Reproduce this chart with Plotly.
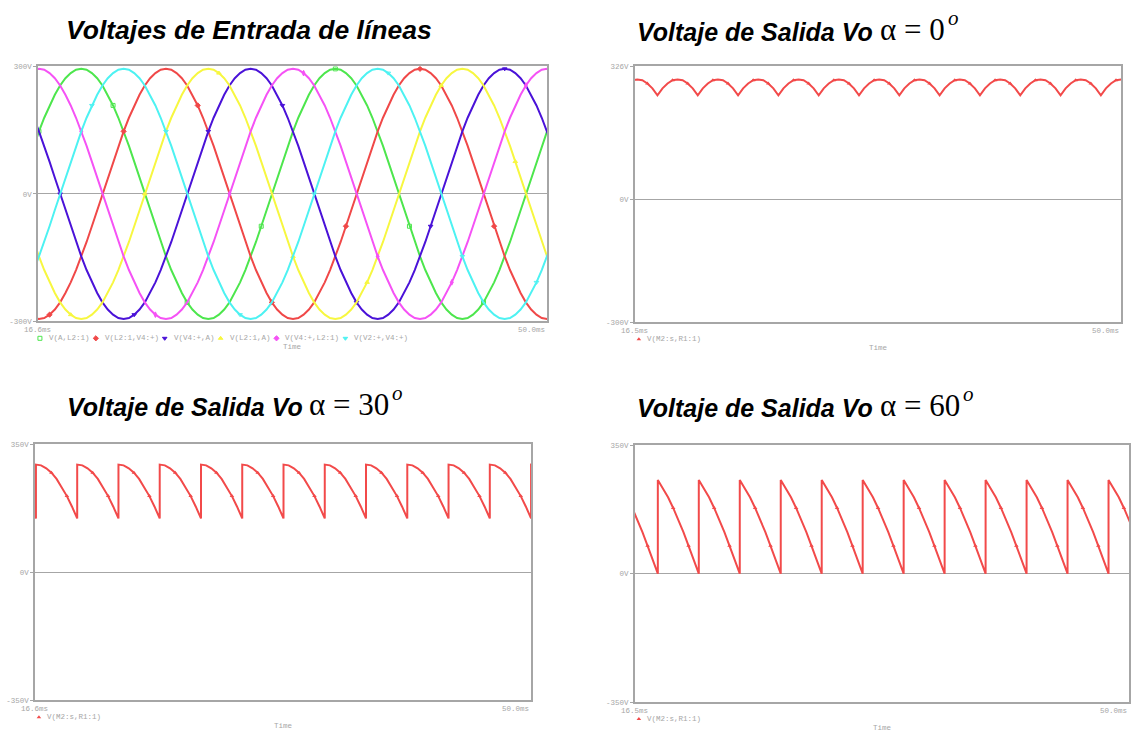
import plotly.graph_objects as go

W, H = 1131, 734

# Line-to-line supply: quarter wave sampled every 7.5 degrees (peak 294 V, 60 Hz)
QUARTER_WAVE_V = [0, 38, 76, 113, 147, 179, 208, 233, 255, 272, 284, 292, 294]
STEP_DEG = 7.5
PERIOD_MS = 16.667
T_ZERO_MS = 16.667

LINE_LABELS = ["V(A,L2:1)", "V(L2:1,V4:+)", "V(V4:+,A)", "V(L2:1,A)", "V(V4:+,L2:1)", "V(V2:+,V4:+)"]
LINE_PHASE_DEG = [30, -90, 150, -150, 90, -30]
LINE_COLORS = ["#4de64d", "#f04848", "#4a12d8", "#f7f740", "#f552f5", "#4df2f2"]
LINE_SYMBOLS = ["square-open", "diamond", "triangle-down", "triangle-up", "diamond-tall", "triangle-down-open"]

# Rectified output pulses (one 60 degree pulse each), per firing angle
OUT_LABEL = "V(M2:s,R1:1)"
OUT_COLOR = "#f24a4a"
ARC_ALPHA_0 = [255, 272, 284, 292, 294, 292, 284, 272, 255]
ARC_ALPHA_30 = [294, 292, 284, 272, 255, 233, 208, 179, 147]
ARC_ALPHA_60 = [255, 233, 208, 179, 147, 113, 76, 38, 0]
FIRST_PULSE_DEG = [-30, -60, -30]

# Panels: input, alpha=0, alpha=30, alpha=60
TITLE_TEXT = ["Voltajes de Entrada de líneas", "Voltaje de Salida Vo",
              "Voltaje de Salida Vo", "Voltaje de Salida Vo"]
TITLE_ALPHA = [None, "α = 0", "α = 30", "α = 60"]
X_RANGES = [[16.6, 50.0], [16.5, 50.0], [16.6, 50.0], [16.5, 50.0]]
X_TICK_TEXT = [["16.6ms", "50.0ms"], ["16.5ms", "50.0ms"], ["16.6ms", "50.0ms"], ["16.5ms", "50.0ms"]]
Y_RANGES = [[-300, 300], [-300, 326], [-350, 350], [-350, 350]]
Y_TICK_VALS = [[-300, 0, 300], [-300, 0, 326], [-350, 0, 350], [-350, 0, 350]]
Y_TICK_TEXT = [["-300V", "0V", "300V"], ["-300V", "0V", "326V"], ["-350V", "0V", "350V"], ["-350V", "0V", "350V"]]

# Panel boxes in pixels: left, right, top, bottom
BOXES = [(38, 548, 64, 322), (636, 1123, 64, 323), (35, 532, 446, 705), (636, 1131, 447, 707)]
# title: left x, baseline y, font size, right edge of the alpha expression
TITLE_X = [64, 636, 65, 636]
TITLE_BASE = [37, 38, 417, 418]
TITLE_SIZE = [26.5, 25, 25, 25]
ALPHA_SIZE = 31
ALPHA_END_X = [None, 949, 392, 964]

GRAY = "#a6a6a6"
MONO = "Liberation Mono"
SERIF = "Liberation Serif"


def px(x):
    return x / W


def py(y):
    return 1 - y / H


def wave_at(k):
    n = k % 48
    q, r = divmod(n, 12)
    if q == 0:
        return QUARTER_WAVE_V[r]
    if q == 1:
        return QUARTER_WAVE_V[12 - r]
    if q == 2:
        return -QUARTER_WAVE_V[r]
    return -QUARTER_WAVE_V[12 - r]


step_ms = PERIOD_MS * STEP_DEG / 360.0
fig = go.Figure()

# Input line voltages
for i, (lab, ph, col, sym) in enumerate(zip(LINE_LABELS, LINE_PHASE_DEG, LINE_COLORS, LINE_SYMBOLS)):
    off = int(round(ph / STEP_DEG))
    ks = list(range(-3, 99))
    t = [T_ZERO_MS + k * step_ms for k in ks]
    v = [wave_at(k + off) for k in ks]
    fig.add_trace(go.Scatter(x=t, y=v, mode="lines", line=dict(color=col, width=2),
                             xaxis="x", yaxis="y", showlegend=False, hoverinfo="skip"))
    mk = list(range(3 + 2 * i, len(ks), 14))
    fig.add_trace(go.Scatter(x=[t[j] for j in mk], y=[v[j] for j in mk], mode="markers",
                             marker=dict(color=col, size=4, symbol=sym, line=dict(color=col, width=1)),
                             xaxis="x", yaxis="y", showlegend=False, hoverinfo="skip"))

# Rectified outputs
arcs = [ARC_ALPHA_0, ARC_ALPHA_30, ARC_ALPHA_60]
for p, (arc, first) in enumerate(zip(arcs, FIRST_PULSE_DEG)):
    ax = str(p + 2)
    t, v, mt, mv = [], [], [], []
    for j in range(15):
        start = first + 60 * j
        for i, val in enumerate(arc):
            tt = T_ZERO_MS + (start + i * STEP_DEG) / 360.0 * PERIOD_MS
            t.append(tt)
            v.append(val)
            if i in (3, 6):
                mt.append(tt)
                mv.append(val)
    fig.add_trace(go.Scatter(x=t, y=v, mode="lines", line=dict(color=OUT_COLOR, width=2),
                             xaxis="x" + ax, yaxis="y" + ax, showlegend=False, hoverinfo="skip"))
    fig.add_trace(go.Scatter(x=mt, y=mv, mode="markers",
                             marker=dict(color=OUT_COLOR, size=4, symbol="triangle-up"),
                             xaxis="x" + ax, yaxis="y" + ax, showlegend=False, hoverinfo="skip"))

# Legend key symbols, drawn on a full-page overlay axis measured in pixels
leg_x = [40, 96, 165, 221, 277, 346]
leg_sym = ["square-open", "diamond", "triangle-down", "triangle-up", "diamond", "triangle-down"]
for col, sym, x in zip(LINE_COLORS, leg_sym, leg_x):
    fig.add_trace(go.Scatter(x=[x], y=[339], mode="markers", xaxis="x5", yaxis="y5",
                             marker=dict(color=col, size=4, symbol=sym, line=dict(color=col, width=1)),
                             showlegend=False, hoverinfo="skip"))
for (l, r, top, bot) in BOXES[1:]:
    fig.add_trace(go.Scatter(x=[l + 4], y=[bot + 17], mode="markers", xaxis="x5", yaxis="y5",
                             marker=dict(color=OUT_COLOR, size=4, symbol="triangle-up"),
                             showlegend=False, hoverinfo="skip"))

layout = dict(width=W, height=H, margin=dict(l=0, r=0, t=0, b=0),
              paper_bgcolor="white", plot_bgcolor="rgba(0,0,0,0)", showlegend=False)
layout["xaxis5"] = dict(domain=[0, 1], range=[0, W], anchor="y5", visible=False, fixedrange=True)
layout["yaxis5"] = dict(domain=[0, 1], range=[H, 0], anchor="x5", visible=False, fixedrange=True)


def note(x, y, text, size, family=MONO, color=GRAY, xanchor="left"):
    return dict(x=px(x), y=py(y), xref="paper", yref="paper", text=text, showarrow=False,
                xanchor=xanchor, yanchor="middle", font=dict(family=family, size=size, color=color))


annotations = []
for p, (l, r, top, bot) in enumerate(BOXES):
    sfx = "" if p == 0 else str(p + 1)
    layout["xaxis" + sfx] = dict(domain=[px(l), px(r)], range=X_RANGES[p], anchor="y" + sfx,
                                 showline=True, mirror=True, linecolor=GRAY, linewidth=1.5,
                                 showgrid=False, zeroline=False, showticklabels=False, ticks="",
                                 fixedrange=True)
    layout["yaxis" + sfx] = dict(domain=[py(bot), py(top)], range=Y_RANGES[p], anchor="x" + sfx,
                                 showline=True, mirror=True, linecolor=GRAY, linewidth=1.5,
                                 showgrid=False, zeroline=True, zerolinecolor=GRAY, zerolinewidth=1,
                                 tickvals=Y_TICK_VALS[p], ticktext=Y_TICK_TEXT[p],
                                 ticks="outside", ticklen=3, tickcolor=GRAY,
                                 tickfont=dict(family=MONO, size=7.5, color=GRAY), fixedrange=True)
    # time labels
    annotations.append(note(l, bot + 9, X_TICK_TEXT[p][0], 7.5, xanchor="center"))
    annotations.append(note(r, bot + 9, X_TICK_TEXT[p][1], 7.5, xanchor="right"))
    annotations.append(note((l + r) / 2, bot + 26, "Time", 7.5, xanchor="center"))
    # title
    base = TITLE_BASE[p]
    fs = TITLE_SIZE[p]
    annotations.append(note(TITLE_X[p], base - 0.36 * fs, "<b><i>" + TITLE_TEXT[p] + "</i></b>", fs,
                            family="Liberation Sans", color="black"))
    if TITLE_ALPHA[p]:
        xe = ALPHA_END_X[p]
        annotations.append(note(xe, base - 0.36 * ALPHA_SIZE, TITLE_ALPHA[p], ALPHA_SIZE, family=SERIF,
                                color="black", xanchor="right"))
        annotations.append(note(xe - 1, base - 23, "<i>o</i>", 21, family=SERIF,
                                color="black", xanchor="left"))

# legend labels
for lab, x in zip(LINE_LABELS, leg_x):
    annotations.append(note(x + 7, 339, lab, 7.5))
for (l, r, top, bot) in BOXES[1:]:
    annotations.append(note(l + 10, bot + 17, OUT_LABEL, 7.5))

layout["annotations"] = annotations
fig.update_layout(**layout)
fig.write_html("out.html")
